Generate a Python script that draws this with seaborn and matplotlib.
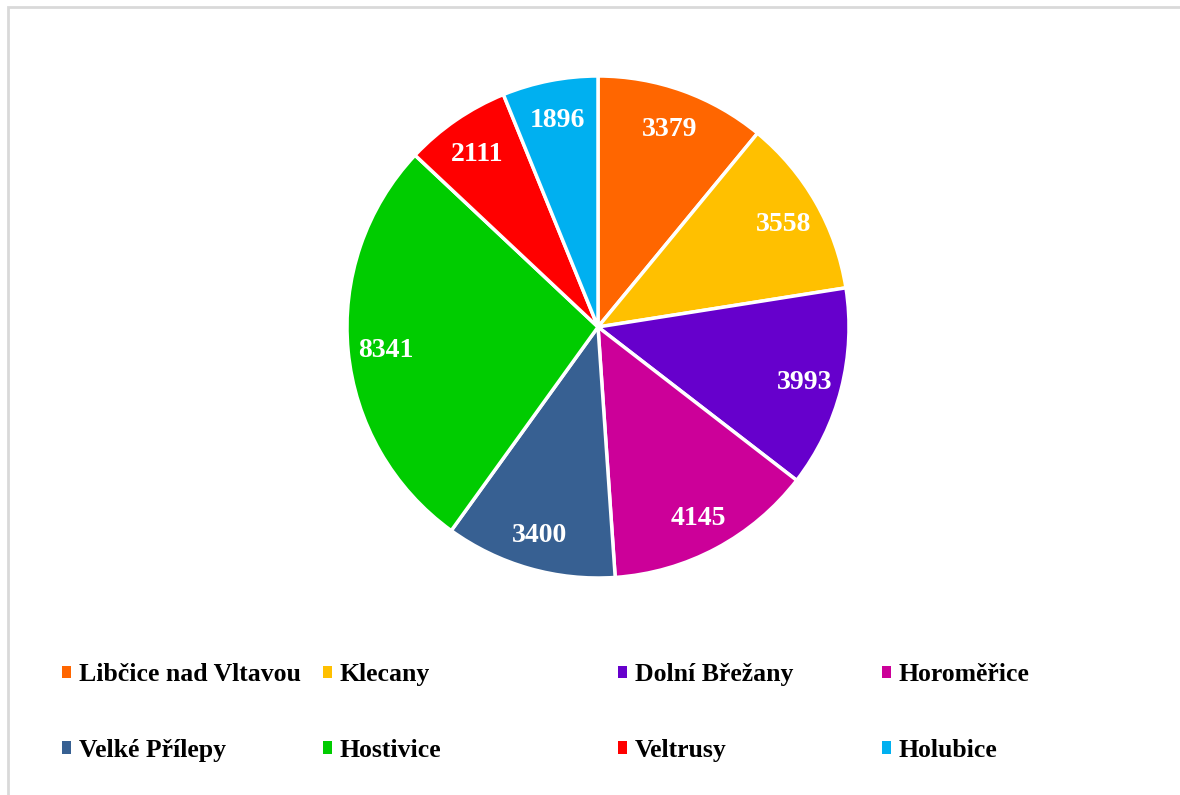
import seaborn as sns
import matplotlib.pyplot as plt
from matplotlib.patches import Rectangle

# obce a pocty obyvatel
obce = ["Libčice nad Vltavou", "Klecany", "Dolní Břežany", "Horoměřice",
        "Velké Přílepy", "Hostivice", "Veltrusy", "Holubice"]
obyvatel = [3379, 3558, 3993, 4145, 3400, 8341, 2111, 1896]
barvy = ["#FF6600", "#FFC000", "#6600CC", "#CC0099",
         "#376092", "#00CC00", "#FF0000", "#00B0F0"]

sns.set_theme(style="white")
plt.rcParams["font.family"] = ["Liberation Serif", "DejaVu Serif"]

W, H = 1180, 795
fig = plt.figure(figsize=(W / 100, H / 100), dpi=100)
fig.patch.set_facecolor("white")

# sedy ramecek grafu (vpravo a dole oriznuty)
fig.add_artist(Rectangle((8 / W, -0.05), 1.1, 1 - 7 / H + 0.05,
                         transform=fig.transFigure, fill=False,
                         edgecolor="#D9D9D9", linewidth=2))

cx, cy, r = 598, 327, 251
ax = fig.add_axes([(cx - r) / W, 1 - (cy + r) / H, 2 * r / W, 2 * r / H])
total = sum(obyvatel)
wedges, texts, autotexts = ax.pie(
    obyvatel, colors=barvy, startangle=90, counterclock=False,
    autopct=lambda p: f"{round(p * total / 100)}", pctdistance=0.85,
    wedgeprops=dict(edgecolor="white", linewidth=2.5),
    textprops=dict(color="white", fontsize=20, fontweight="bold"))
for t in autotexts:
    x, y = t.get_position()
    t.set_position((x, y - 0.012))
ax.set_xlim(-1, 1)
ax.set_ylim(-1, 1)
ax.set_aspect("equal")
ax.axis("off")

# legenda: 4 sloupce po 2 polozkach
sloupce_x = [62, 323, 618, 882]
for i, x in enumerate(sloupce_x):
    leg = fig.legend([wedges[i], wedges[i + 4]], [obce[i], obce[i + 4]],
                     loc="upper left", bbox_to_anchor=(x / W, 1 - 663 / H),
                     frameon=False, ncol=1, borderpad=0, borderaxespad=0,
                     handlelength=0.36, handleheight=0.36, handletextpad=0.3,
                     labelspacing=2.05, labelcolor="black",
                     prop=dict(family=["Liberation Serif", "DejaVu Serif"],
                               weight="bold", size=18.5))
    for h in leg.legend_handles:
        h.set_linewidth(0)

fig.savefig("out.png", dpi=100, facecolor="white")
